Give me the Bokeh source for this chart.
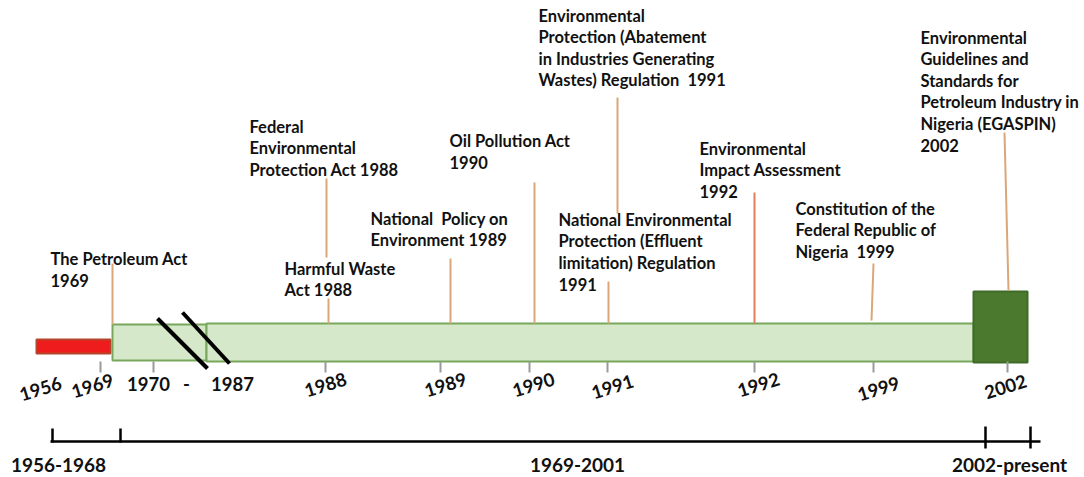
from bokeh.plotting import figure
from bokeh.models import Range1d
from bokeh.embed import file_html
from bokeh.resources import INLINE
from bokeh.core.properties import value

# ---------------- data ----------------
# period bars of the timeline (schematic page units)
period_names = ["1956-1968", "1969-1987", "1988-2001", "2002-present"]
period_left = [36, 112, 206, 973]
period_right = [110, 206, 973, 1027]
period_top = [339, 324, 323, 291]
period_bottom = [353, 360, 361, 362]

# rotated year labels under the bar
year_labels = ["1956", "1969", "1988", "1989", "1990", "1991", "1992", "1999", "2002"]
year_x = [40, 92, 325, 445, 533, 612, 758, 878, 1005]
year_y = [388, 385, 384, 384, 384, 386, 384, 388, 386]

# horizontal "1970 - 1987" label
range_labels = ["1970", "-", "1987"]
range_x = [148, 186, 232]
range_y = [383, 383, 383]

# small grey ticks under the bar
tick_x = [100, 153, 325, 440, 529, 607, 754, 873, 1007]

# events (laws / regulations)
event_texts = [
    "The Petroleum Act\n1969",
    "Federal\nEnvironmental\nProtection Act 1988",
    "Harmful Waste\nAct 1988",
    "National\u00a0 Policy on\nEnvironment 1989",
    "Oil Pollution Act\n1990",
    "Environmental\nProtection (Abatement\nin Industries Generating\nWastes) Regulation\u00a0 1991",
    "National Environmental\nProtection (Effluent\nlimitation) Regulation\n1991",
    "Environmental\nImpact Assessment\n1992",
    "Constitution of the\nFederal Republic of\nNigeria\u00a0 1999",
    "Environmental\nGuidelines and\nStandards for\nPetroleum Industry in\nNigeria (EGASPIN)\n2002",
]
event_x = [50, 249, 284, 370, 449, 538, 558, 699, 795, 920]
event_y = [258, 126, 268, 218, 140, 15, 219, 148, 208, 37]

# leader stems
stem_x0 = [112, 326, 328, 450, 534, 617, 608, 754, 873, 1004]
stem_y0 = [263, 178, 298, 258, 182, 97, 281, 192, 263, 132]
stem_x1 = [112, 326, 328, 450, 534, 617, 608, 754, 871, 1008]
stem_y1 = [324, 257, 323, 323, 323, 213, 323, 323, 320, 290]
stem_colors = ["#dba77a", "#dba77a", "#dba77a", "#dba77a", "#dba77a",
               "#dba77a", "#dba77a", "#e0805a", "#dba77a", "#dba77a"]

# break marks on 1970-1987 section
slash_x0 = [157, 182]
slash_y0 = [318, 312]
slash_x1 = [207, 229]
slash_y1 = [368, 363]

# bottom period axis
axis_labels = ["1956-1968", "1969-2001", "2002-present"]
axis_label_x = [58, 577, 1009]
axis_tick_x = [52, 120, 985, 1030]
axis_tick_top = [428, 428, 426, 426]
axis_tick_bottom = [442, 442, 448, 448]

# ---------------- figure ----------------
W, H = 1084, 477
p = figure(width=W, height=H, x_range=Range1d(0, W), y_range=Range1d(H, 0),
           output_backend="svg", toolbar_location=None,
           x_axis_type=None, y_axis_type=None, min_border=0)
p.grid.visible = False
p.outline_line_color = None
p.background_fill_color = "white"

FONT = value("Lato")

fills = ["#ee1c1c", "#d5e8c9", "#d5e8c9", "#4b7a2f"]
lines = ["#b5452a", "#78a75c", "#78a75c", "#3f6a27"]
p.quad(left=period_left, right=period_right, top=period_top, bottom=period_bottom,
       fill_color=fills, line_color=lines, line_width=2)

# grey ticks
p.segment(x0=tick_x, y0=[361] * len(tick_x), x1=tick_x, y1=[372] * len(tick_x),
          line_color="#9a9a9a", line_width=2)

# break slashes
p.segment(x0=slash_x0, y0=slash_y0, x1=slash_x1, y1=slash_y1,
          line_color="black", line_width=4)

# stems
p.segment(x0=stem_x0, y0=stem_y0, x1=stem_x1, y1=stem_y1,
          line_color=stem_colors, line_width=2)

# year labels
p.text(x=year_x, y=year_y, text=year_labels, angle=0.3,
       text_align="center", text_baseline="middle",
       text_font=FONT, text_font_style="bold", text_font_size="18.5px",
       text_color="#111111")
p.text(x=range_x, y=range_y, text=range_labels,
       text_align="center", text_baseline="middle",
       text_font=FONT, text_font_style="bold", text_font_size="18.5px",
       text_color="#111111")

# event texts (line by line)
LINE_H = 21.5
lx, ly, lt = [], [], []
for t, x, y in zip(event_texts, event_x, event_y):
    for i, line in enumerate(t.split("\n")):
        lx.append(x)
        ly.append(y + i * LINE_H)
        lt.append(line)
p.text(x=lx, y=ly, text=lt, text_align="left", text_baseline="middle",
       text_font=FONT, text_font_style="bold", text_font_size="16.5px",
       text_color="#111111")

# bottom period axis
p.segment(x0=[50], y0=[441], x1=[1040], y1=[441], line_color="black", line_width=2.5)
p.segment(x0=axis_tick_x, y0=axis_tick_top, x1=axis_tick_x, y1=axis_tick_bottom,
          line_color="black", line_width=2.5)
p.text(x=axis_label_x, y=[464] * len(axis_label_x), text=axis_labels,
       text_align="center", text_baseline="middle",
       text_font=FONT, text_font_style="bold", text_font_size="19px",
       text_color="#111111")

open("out.html", "w").write(file_html(p, INLINE))
